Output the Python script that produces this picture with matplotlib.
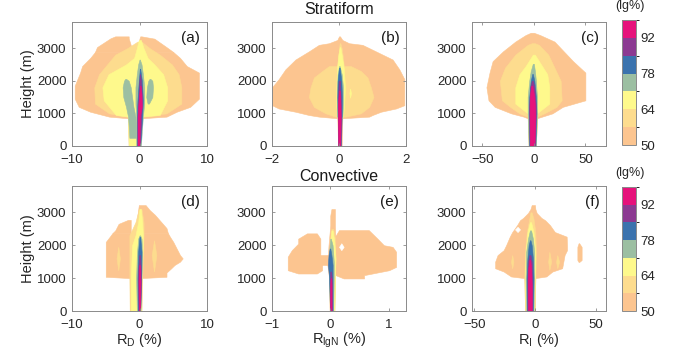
import matplotlib
matplotlib.use('Agg')
import matplotlib.pyplot as plt
from matplotlib.colors import ListedColormap, BoundaryNorm

plt.rcParams['font.family'] = 'Liberation Sans'
plt.rcParams['mathtext.fontset'] = 'custom'
plt.rcParams['mathtext.rm'] = 'Liberation Sans'
plt.rcParams['mathtext.it'] = 'Liberation Sans:italic'

# colour levels (lg%)
levels = [50, 57, 64, 71, 78, 85, 92, 99]
level_ticks = [50, 64, 78, 92]
colors = ['#FCC590', '#FDDC8E', '#FEF98C', '#9CBFA2', '#3B73AE', '#8C3A92', '#E6127B']

# each region: (level index, heights, left edge, right edge); level -1 = empty hole
panel_a = [
    (0, [0, 850, 900, 1050, 1200, 1450, 1850, 2250, 2450, 2700, 2880],
        [-1.6, -1.7, -4.5, -7.3, -9.0, -9.6, -9.6, -8.8, -8.5, -7.3, -6.6],
        [0.1, 0.3, 4.0, 5.5, 7.5, 8.8, 8.8, 8.8, 7.0, 6.0, 5.0]),
    (0, [2880, 3030, 3300, 3360], [-6.6, -6.3, -4.3, -3.6], [-0.6, -1.2, -1.6, -1.6]),
    (0, [2880, 3030, 3290, 3360], [-0.6, -0.3, 0.0, 0.1], [5.0, 4.0, 2.2, 0.3]),
    (1, [0, 900, 1000, 1300, 1800, 2200, 2500, 2800, 3000, 3200],
        [-1.6, -1.7, -4.5, -6.6, -6.7, -6.0, -4.8, -3.6, -1.8, -0.3],
        [0.1, 0.3, 4.0, 6.2, 6.2, 5.8, 4.8, 3.0, 1.5, 0.3]),
    (2, [0, 900, 950, 1400, 1800, 2200, 2500, 2700, 3000, 3250],
        [-1.6, -1.7, -3.5, -5.3, -5.5, -4.6, -2.0, -0.8, -0.4, -0.1],
        [0.1, 0.3, 3.0, 4.1, 4.1, 3.5, 2.2, 1.2, 0.6, 0.2]),
    (3, [250, 600, 900, 1200, 1500, 1800, 2000, 2060],
        [-1.5, -1.6, -1.7, -2.0, -2.4, -2.5, -2.3, -2.1],
        [-0.5, -0.5, -0.6, -0.9, -1.1, -1.3, -1.6, -2.0]),
    (3, [0, 900, 1300, 1800, 2200, 2500, 2650],
        [-0.5, -0.5, -0.6, -0.6, -0.4, -0.2, 0.0],
        [0.2, 0.5, 0.7, 0.7, 0.5, 0.3, 0.05]),
    (3, [1300, 1500, 1800, 2000, 2060], [1.2, 1.0, 1.1, 1.3, 1.5], [1.4, 1.9, 2.0, 1.9, 1.6]),
    (4, [0, 900, 1400, 2000, 2370], [-0.4, -0.4, -0.3, -0.1, 0.05], [0.1, 0.4, 0.5, 0.35, 0.1]),
    (5, [0, 1100, 1800, 2200], [-0.2, -0.2, -0.1, 0.05], [0.05, 0.3, 0.3, 0.1]),
    (6, [0, 900, 1200, 1600, 1850], [-0.3, -0.3, -0.2, -0.05, 0.1], [0.0, 0.05, 0.35, 0.3, 0.15]),
]

panel_b = [
    (0, [0, 850, 900, 950, 1050, 1150, 1250, 1800, 2050, 2350, 2650, 2900, 3100, 3150, 3250, 3360],
        [-0.03, -0.05, -0.6, -0.9, -1.3, -1.8, -2.0, -2.0, -1.8, -1.6, -1.3, -0.9, -0.6, -0.3, -0.05, 0.0],
        [0.08, 0.1, 0.9, 1.0, 1.25, 1.7, 1.95, 1.95, 1.95, 1.8, 1.6, 1.1, 0.7, 0.3, 0.1, 0.03]),
    (1, [900, 1000, 1200, 1500, 1800, 2100, 2300, 2450],
        [-0.1, -0.4, -0.75, -0.9, -0.85, -0.75, -0.5, -0.3],
        [0.2, 0.65, 0.9, 1.03, 0.95, 0.85, 0.65, 0.35]),
    (1, [2400, 2700, 3000, 3150], [-0.03, -0.02, 0.0, 0.02], [0.15, 0.12, 0.08, 0.04]),
    (2, [900, 1200, 1800, 2400, 2800, 3030], [-0.05, -0.08, -0.08, -0.06, -0.02, 0.02],
        [0.12, 0.15, 0.18, 0.14, 0.08, 0.04]),
    (2, [1480, 1620, 1760], [0.33, 0.31, 0.33], [0.33, 0.36, 0.33]),
    (3, [900, 1300, 1800, 2200, 2450], [-0.06, -0.06, -0.06, -0.04, 0.0], [0.1, 0.12, 0.12, 0.08, 0.02]),
    (4, [0, 900, 1500, 2000, 2400], [-0.02, -0.04, -0.05, -0.04, 0.0], [0.06, 0.08, 0.09, 0.07, 0.02]),
    (5, [0, 1200, 2000], [-0.02, -0.04, -0.01], [0.04, 0.06, 0.03]),
    (6, [0, 900, 1300, 1700], [-0.02, -0.03, -0.03, 0.0], [0.04, 0.05, 0.04, 0.02]),
]

panel_c = [
    (0, [0, 850, 900, 1000, 1200, 1400, 1800, 2250, 2600, 2900, 3200, 3400, 3470],
        [-5, -6, -10, -22, -38, -44, -46, -43, -40, -30, -18, -8, -3],
        [2, 3, 8, 18, 28, 50, 50, 50, 38, 29, 20, 6, 0]),
    (1, [0, 900, 1000, 1200, 1400, 2000, 2400, 2800, 3100, 3150],
        [-5, -6, -14, -23, -31, -33, -28, -18, -6, -2],
        [2, 3, 10, 22, 27, 26, 20, 14, 5, 1]),
    (2, [0, 1000, 1150, 1300, 1800, 2200, 2450, 2700, 2800],
        [-5, -6, -12, -18, -18, -14, -8, -3, -1],
        [2, 3, 9, 15, 15, 13, 8, 3, 1]),
    (3, [0, 1000, 1500, 2000, 2300, 2520], [-5, -6, -6, -4.5, -3, -1], [2, 3, 3, 2, 1, 0]),
    (4, [0, 1000, 1500, 2000, 2210], [-4.5, -5, -4.5, -3, -1.5], [1.5, 2.5, 2, 0.5, -1]),
    (5, [0, 1200, 1800, 2000], [-4, -4.5, -3.5, -2], [1, 2, 0.5, -1]),
    (6, [0, 900, 1500, 1850], [-4, -4.2, -4, -2.5], [0.5, 1.5, 0.5, -1.5]),
]

panel_d = [
    (0, [0, 1000, 1040, 1170, 1300, 1400, 1500, 1600, 1700, 2100, 2260, 2370],
        [-1.4, -1.4, -5.0, -5.0, -5.0, -5.0, -5.0, -5.0, -5.0, -5.0, -4.4, -4.0],
        [0.1, 0.1, 4.0, 4.0, 4.7, 5.2, 6.0, 6.4, 6.0, 5.0, 4.5, 4.2]),
    (0, [2370, 2450, 2650, 2770], [-4.0, -3.6, -3.1, -1.7], [-1.3, -1.3, -1.3, -1.3]),
    (0, [2370, 2520, 2920, 3070, 3220], [-0.4, -0.4, -0.3, -0.2, -0.1], [4.2, 4.0, 2.3, 1.5, 0.9]),
    (1, [1240, 1600, 1950], [-3.15, -3.4, -3.15], [-3.15, -2.9, -3.15]),
    (1, [1200, 1700, 2150], [2.15, 1.8, 2.15], [2.15, 2.5, 2.15]),
    (1, [0, 1000, 2300, 2700, 3100], [-1.45, -1.5, -1.5, -0.6, -0.1], [0.3, 0.4, 0.6, 0.6, 0.3]),
    (2, [0, 1000, 2000, 2300, 2700, 3100], [-1.3, -1.3, -1.1, -0.6, -0.2, 0.0], [0.2, 0.3, 0.5, 0.5, 0.4, 0.2]),
    (3, [0, 1000, 1700, 2200, 2300], [-0.4, -0.5, -0.4, -0.2, 0.0], [0.15, 0.3, 0.4, 0.3, 0.1]),
    (4, [0, 1000, 1800, 2250], [-0.25, -0.3, -0.2, 0.0], [0.1, 0.25, 0.3, 0.1]),
    (5, [0, 1200, 1700], [-0.15, -0.2, -0.05], [0.1, 0.2, 0.1]),
    (6, [0, 900, 1400], [-0.1, -0.15, -0.05], [0.1, 0.15, 0.05]),
]

panel_e = [
    (0, [0, 1000, 1400, 2000, 2600, 2900, 3100], [-0.01, -0.02, -0.05, -0.03, 0.0, 0.0, 0.02],
        [0.07, 0.08, 0.09, 0.09, 0.08, 0.08, 0.08]),
    (0, [1140, 1240, 1450, 1650, 1850, 2050, 2200, 2360],
        [-0.55, -0.73, -0.73, -0.73, -0.66, -0.55, -0.55, -0.4],
        [-0.23, -0.14, -0.14, -0.17, -0.17, -0.17, -0.17, -0.23]),
    (0, [1400, 1550, 1700], [-0.2, -0.2, -0.2], [0.0, 0.0, 0.0]),
    (0, [990, 1090, 1240, 1340, 1800, 1950, 2000, 2200, 2460],
        [0.23, 0.09, 0.06, 0.06, 0.06, 0.06, 0.06, 0.06, 0.15],
        [0.58, 0.58, 1.01, 1.13, 1.13, 1.07, 0.92, 0.81, 0.66]),
    (-1, [1850, 1950, 2060], [0.19, 0.15, 0.19], [0.19, 0.23, 0.19]),
    (1, [0, 1000, 1600, 2200, 2500], [-0.01, -0.02, -0.02, 0.0, 0.02], [0.07, 0.08, 0.09, 0.08, 0.05]),
    (2, [0, 1000, 1600, 2100, 2450], [0.0, 0.0, -0.01, 0.0, 0.02], [0.07, 0.08, 0.09, 0.07, 0.04]),
    (3, [0, 1000, 1500, 2000, 2200], [-0.005, -0.02, -0.03, -0.01, 0.0], [0.05, 0.06, 0.06, 0.04, 0.01]),
    (4, [0, 1000, 1400, 1700, 1900], [-0.005, -0.02, -0.04, -0.03, -0.01], [0.04, 0.04, 0.04, 0.02, 0.0]),
    (5, [0, 900, 1200], [0.0, -0.005, 0.0], [0.03, 0.03, 0.015]),
    (6, [0, 800, 1000], [0.0, 0.0, 0.005], [0.02, 0.02, 0.012]),
]

panel_f = [
    (0, [0, 1000, 1050, 1200, 1300, 1500, 1700, 1850, 2000, 2260, 2400, 2610, 2760, 2830, 2980, 3100, 3220],
        [-8.5, -9, -20, -26, -33, -33, -31, -26, -24, -21, -19, -15, -12.6, -10, -6, -4, -3],
        [-0.5, 0, 9, 14, 22, 23, 24, 26, 26, 25.7, 16, 12, 8, 5, 1.1, 0, -0.3]),
    (0, [1490, 1550, 1950, 2060], [35.5, 34.5, 34.5, 35.5], [36, 38, 38, 36]),
    (-1, [2400, 2480, 2560], [-14.6, -16.7, -14.6], [-14.6, -12.6, -14.6]),
    (1, [1300, 1500, 1700], [-19, -20, -19], [-19, -18, -19]),
    (1, [1250, 1500, 1800], [11.5, 10.5, 11.5], [11.5, 13, 11.5]),
    (1, [1300, 1500, 1700], [18, 17, 18], [18, 19.5, 18]),
    (1, [0, 1000, 1800, 2400, 2800, 3000], [-8.5, -9, -8.5, -7, -5, -4], [-0.5, 0, 0.5, 0, -1.5, -3]),
    (2, [0, 1000, 1800, 2400, 2700], [-8, -8.5, -8, -6.5, -4.5], [-1, -0.5, 0, -1.5, -3.5]),
    (3, [0, 1000, 1800, 2200, 2450], [-7.5, -8, -7.5, -6, -4.5], [-1.5, -1, -1, -2, -3.5]),
    (4, [0, 1000, 1600, 2000, 2150], [-7, -7.2, -6.5, -5.5, -4.5], [-2, -1.5, -2, -3, -4]),
    (5, [0, 1000, 1500, 1700], [-6.5, -6.5, -6, -5], [-2.5, -2.5, -3, -4]),
    (6, [0, 800, 1300, 1550], [-6, -6.2, -5.8, -5], [-3, -3, -3.5, -4.2]),
]

panels = [panel_a, panel_b, panel_c, panel_d, panel_e, panel_f]
letters = ['(a)', '(b)', '(c)', '(d)', '(e)', '(f)']
xlims = [(-10, 10), (-2, 2), (-60, 70), (-10, 10), (-1, 1.3), (-52, 58)]
xticks = [[-10, 0, 10], [-2, 0, 2], [-50, 0, 50], [-10, 0, 10], [-1, 0, 1], [-50, 0, 50]]
xlabels = [None, None, None, r'R$_\mathrm{D}$ (%)', r'R$_\mathrm{lgN}$ (%)', r'R$_\mathrm{I}$ (%)']
yticks = [0, 1000, 2000, 3000]

W, H = 683, 350
fig = plt.figure(figsize=(W / 100, H / 100), dpi=100)

def px_axes(x0, y0, x1, y1):
    return fig.add_axes([x0 / W, 1 - y1 / H, (x1 - x0) / W, (y1 - y0) / H])

col_x = [(72, 207), (272, 406), (472, 606)]
row_y = [(22, 146), (186, 311)]

edge = '#8a8a8a'
for i, regions in enumerate(panels):
    r, c = divmod(i, 3)
    ax = px_axes(col_x[c][0], row_y[r][0], col_x[c][1], row_y[r][1])
    order = sorted(regions, key=lambda t: 0.5 if t[0] < 0 else t[0])
    for lev, h, lo, hi in order:
        col = 'white' if lev < 0 else colors[lev]
        ax.fill_betweenx(h, lo, hi, facecolor=col, edgecolor=col, lw=0.4)
    ax.set_xlim(*xlims[i])
    ax.set_ylim(0, 3800)
    ax.set_xticks(xticks[i])
    ax.set_yticks(yticks)
    ax.tick_params(direction='in', top=True, right=True, length=2.5, width=0.6,
                   color=edge, labelsize=9.5, labelcolor='#262626')
    ax.tick_params(axis='x', pad=5.5)
    ax.tick_params(axis='y', pad=4)
    for s in ax.spines.values():
        s.set_color(edge)
        s.set_linewidth(0.7)
        s.set_zorder(5)
    ax.text(0.95, 0.93, letters[i], transform=ax.transAxes, ha='right', va='top',
            fontsize=11, color='#1a1a1a')
    if c == 0:
        ax.set_ylabel('Height (m)', fontsize=10.5, color='#262626', labelpad=1)
    if xlabels[i]:
        ax.set_xlabel(xlabels[i], fontsize=10.5, color='#262626', labelpad=0)

fig.text(339 / W, 1 - 10 / H, 'Stratiform', ha='center', va='center', fontsize=11.5, color='#1a1a1a')
fig.text(339 / W, 1 - 177 / H, 'Convective', ha='center', va='center', fontsize=11.5, color='#1a1a1a')

cmap = ListedColormap(colors)
norm = BoundaryNorm(levels, cmap.N)
for y0, y1, ty in [(20, 145, 6), (187, 311, 173)]:
    cax = px_axes(622, y0, 636, y1)
    cb = fig.colorbar(plt.cm.ScalarMappable(norm=norm, cmap=cmap), cax=cax, ticks=level_ticks)
    cb.outline.set_edgecolor(edge)
    cb.outline.set_linewidth(0.7)
    cax.tick_params(length=0, labelsize=9.5, labelcolor='#262626', pad=3)
    fig.text(630 / W, 1 - ty / H, '(lg%)', ha='center', va='center', fontsize=9, color='#262626')

fig.savefig('out.png', dpi=100)
